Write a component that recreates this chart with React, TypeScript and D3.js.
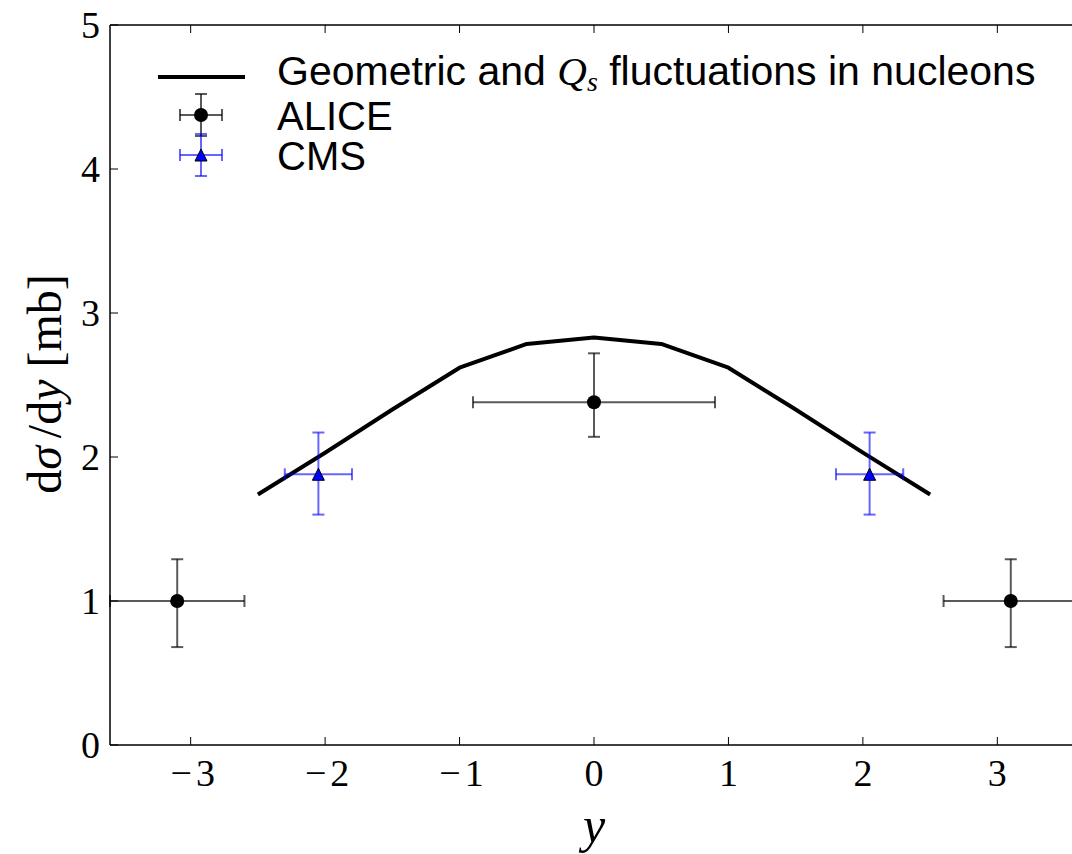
import React from "react";
import * as d3 from "d3";

// Model curve: geometric + Q_s fluctuations
const curveRapidity = [-2.5, -2, -1.5, -1, -0.5, 0, 0.5, 1, 1.5, 2, 2.5];
const curveSigma = [1.74, 2.03, 2.33, 2.62, 2.785, 2.83, 2.785, 2.62, 2.33, 2.03, 1.74];

// ALICE measurements
const aliceRapidity = [-3.1, 0, 3.1];
const aliceSigma = [1.0, 2.38, 1.0];
const aliceXErr = [0.5, 0.9, 0.5];
const aliceYErrHi = [0.29, 0.34, 0.29];
const aliceYErrLo = [0.32, 0.24, 0.32];

// CMS measurements
const cmsRapidity = [-2.05, 2.05];
const cmsSigma = [1.88, 1.88];
const cmsXErr = [0.25, 0.25];
const cmsYErrHi = [0.29, 0.29];
const cmsYErrLo = [0.28, 0.28];

const xTicks = [-3, -2, -1, 0, 1, 2, 3];
const yTicks = [0, 1, 2, 3, 4, 5];

const W = 1072;
const H = 854;
const left = 110;
const right = 1078;
const top = 25;
const bottom = 745;

const serif = "'Liberation Serif', 'DejaVu Serif', serif";
const sans = "'Liberation Sans', Arial, Helvetica, sans-serif";

export default function App() {
  const x = d3.scaleLinear().domain([-3.6, 3.6]).range([left, right]);
  const y = d3.scaleLinear().domain([0, 5]).range([bottom, top]);

  const linePath = d3
    .line<number>()
    .x((_, i) => x(curveRapidity[i]))
    .y((d) => y(d))(curveSigma) as string;

  const cap = 6;

  const errorBars = (
    xs: number[],
    ys: number[],
    xe: number[],
    hi: number[],
    lo: number[],
    color: string,
    opacity: number
  ) =>
    xs.map((xv, i) => {
      const cx = x(xv);
      const cy = y(ys[i]);
      const x0 = x(xv - xe[i]);
      const x1 = x(xv + xe[i]);
      const y0 = y(ys[i] + hi[i]);
      const y1 = y(ys[i] - lo[i]);
      return (
        <g key={i} stroke={color} strokeWidth={2} strokeOpacity={opacity} fill="none">
          <line x1={x0} x2={x1} y1={cy} y2={cy} />
          <line x1={x0} x2={x0} y1={cy - cap} y2={cy + cap} />
          <line x1={x1} x2={x1} y1={cy - cap} y2={cy + cap} />
          <line x1={cx} x2={cx} y1={y0} y2={y1} />
          <line x1={cx - cap} x2={cx + cap} y1={y0} y2={y0} />
          <line x1={cx - cap} x2={cx + cap} y1={y1} y2={y1} />
        </g>
      );
    });

  const tri = (cx: number, cy: number, s: number) =>
    `M${cx},${cy - s} L${cx - s},${cy + s} L${cx + s},${cy + s} Z`;

  // legend glyph helper: small error cross
  const legendCross = (cx: number, cy: number, color: string, opacity: number) => (
    <g stroke={color} strokeWidth={2} strokeOpacity={opacity}>
      <line x1={cx - 21} x2={cx + 21} y1={cy} y2={cy} />
      <line x1={cx - 21} x2={cx - 21} y1={cy - cap} y2={cy + cap} />
      <line x1={cx + 21} x2={cx + 21} y1={cy - cap} y2={cy + cap} />
      <line x1={cx} x2={cx} y1={cy - 21} y2={cy + 21} />
      <line x1={cx - cap} x2={cx + cap} y1={cy - 21} y2={cy - 21} />
      <line x1={cx - cap} x2={cx + cap} y1={cy + 21} y2={cy + 21} />
    </g>
  );

  return (
    <svg
      width={W}
      height={H}
      viewBox={`0 0 ${W} ${H}`}
      style={{ position: "absolute", left: 0, top: 0, background: "#fff" }}
    >
      <rect x={0} y={0} width={W} height={H} fill="#fff" />

      {/* model curve */}
      <path d={linePath} fill="none" stroke="#000" strokeWidth={4} strokeLinejoin="round" />

      {/* ALICE */}
      {errorBars(aliceRapidity, aliceSigma, aliceXErr, aliceYErrHi, aliceYErrLo, "#000", 0.65)}
      {aliceRapidity.map((v, i) => (
        <circle key={i} cx={x(v)} cy={y(aliceSigma[i])} r={7} fill="#000" />
      ))}

      {/* CMS */}
      {errorBars(cmsRapidity, cmsSigma, cmsXErr, cmsYErrHi, cmsYErrLo, "#0000ff", 0.6)}
      {cmsRapidity.map((v, i) => (
        <path key={i} d={tri(x(v), y(cmsSigma[i]), 6)} fill="#0000ff" stroke="#000" strokeWidth={1} />
      ))}

      {/* axes frame */}
      <g stroke="#000" strokeWidth={1.5} fill="none">
        <line x1={left} x2={right} y1={bottom} y2={bottom} />
        <line x1={left} x2={right} y1={top} y2={top} />
        <line x1={left} x2={left} y1={top} y2={bottom} />
      </g>

      {/* x ticks */}
      {xTicks.map((t) => (
        <g key={t}>
          <line x1={x(t)} x2={x(t)} y1={bottom} y2={bottom - 8} stroke="#000" strokeWidth={1} />
          <line x1={x(t)} x2={x(t)} y1={top} y2={top + 8} stroke="#000" strokeWidth={1} />
          <text x={x(t) + (t < 0 ? 2 : 0)} y={786} textAnchor="middle" fontFamily={serif} fontSize={38} fill="#000">
            {t < 0 ? (
              <>
                <tspan>{"\u2212"}</tspan>
                <tspan dx={4}>{Math.abs(t)}</tspan>
              </>
            ) : (
              `${t}`
            )}
          </text>
        </g>
      ))}

      {/* y ticks */}
      {yTicks.map((t) => (
        <g key={t}>
          <line x1={left} x2={left + 8} y1={y(t)} y2={y(t)} stroke="#000" strokeWidth={1} />
          <text x={100} y={y(t) + 13} textAnchor="end" fontFamily={serif} fontSize={38} fill="#000">
            {t}
          </text>
        </g>
      ))}

      {/* axis labels */}
      <text x={594} y={842} textAnchor="middle" fontFamily={serif} fontSize={50} fontStyle="italic" fill="#000">
        y
      </text>
      <text
        transform={`translate(61, 384) rotate(-90)`}
        textAnchor="middle"
        fontFamily={serif}
        fontSize={48}
        fill="#000"
        style={{ whiteSpace: "pre" }}
      >
        <tspan>d</tspan>
        <tspan fontStyle="italic">σ</tspan>
        <tspan dx={8}>/d</tspan>
        <tspan fontStyle="italic">y</tspan>
        <tspan dx={12}>[mb]</tspan>
      </text>

      {/* legend */}
      <line x1={158} x2={245} y1={77} y2={77} stroke="#000" strokeWidth={4} />
      <text x={277} y={85} fontFamily={sans} fontSize={41} fill="#000">
        <tspan>Geometric and </tspan>
        <tspan fontFamily={serif} fontStyle="italic">Q</tspan>
        <tspan fontFamily={serif} fontStyle="italic" fontSize={28} dy={6}>s</tspan>
        <tspan dy={-6}> fluctuations in nucleons</tspan>
      </text>

      {legendCross(201, 115, "#000", 0.65)}
      <circle cx={201} cy={115} r={7} fill="#000" />
      <text x={277} y={130} fontFamily={sans} fontSize={40} fill="#000">
        ALICE
      </text>

      {legendCross(201, 155, "#0000ff", 0.6)}
      <path d={tri(201, 155, 6)} fill="#0000ff" stroke="#000" strokeWidth={1} />
      <text x={277} y={170} fontFamily={sans} fontSize={40} fill="#000">
        CMS
      </text>
    </svg>
  );
}
